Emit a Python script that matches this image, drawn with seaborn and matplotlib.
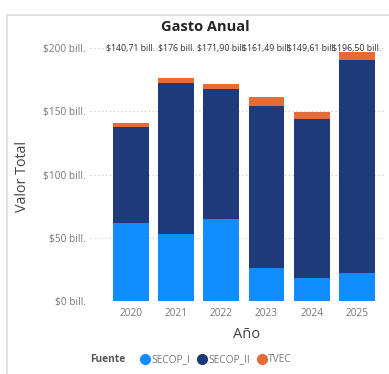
import matplotlib
matplotlib.use("Agg")
import matplotlib.pyplot as plt
from matplotlib.lines import Line2D
from matplotlib.patches import Rectangle
import seaborn as sns
import pandas as pd
import numpy as np

years = ["2020", "2021", "2022", "2023", "2024", "2025"]
secop_i = [61.7, 53.0, 65.0, 26.0, 18.0, 22.0]
secop_ii = [76.0, 119.0, 102.9, 128.5, 125.8, 168.5]
tvec = [3.0, 4.0, 4.0, 7.0, 5.8, 6.0]
total_labels = ["$140,71 bill.", "$176 bill.", "$171,90 bill.", "$161,49 bill.", "$149,61 bill.", "$196,50 bill."]
yticks = [0, 50, 100, 150, 200]
ytick_labels = ["$0 bill.", "$50 bill.", "$100 bill.", "$150 bill.", "$200 bill."]

colors = {"SECOP_I": "#118DFF", "SECOP_II": "#1E3A7B", "TVEC": "#E66C37"}

sns.set_style("white")
plt.rcParams["font.family"] = ["Open Sans", "DejaVu Sans"]

W, H = 389, 374
fig = plt.figure(figsize=(W / 100, H / 100), dpi=100)
ax = fig.add_axes([90 / W, (H - 301) / H, 295 / W, 253 / H])

df = pd.DataFrame({"Año": years, "SECOP_I": secop_i, "SECOP_II": secop_ii, "TVEC": tvec})
df["c1"] = df["SECOP_I"]
df["c2"] = df["c1"] + df["SECOP_II"]
df["c3"] = df["c2"] + df["TVEC"]

for col, key in [("c3", "TVEC"), ("c2", "SECOP_II"), ("c1", "SECOP_I")]:
    sns.barplot(data=df, x="Año", y=col, color=colors[key], width=0.79,
                saturation=1, ax=ax, linewidth=0)

ax.set_xlim(-0.9, 5.62)
ax.set_ylim(0, 200)
ax.set_yticks(yticks)
ax.set_yticklabels(ytick_labels)
for y in yticks:
    ax.axhline(y, color="#C8C8C8", linestyle=(0, (1, 2.5)), linewidth=0.8, zorder=0)
for s in ax.spines.values():
    s.set_visible(False)
ax.tick_params(axis="both", length=0, labelsize=7.3, labelcolor="#777777")
ax.tick_params(axis="x", pad=5)
ax.tick_params(axis="y", pad=3)
ax.set_xlabel("Año", fontsize=10.5, color="#444444")
ax.set_ylabel("Valor Total", fontsize=10.3, color="#444444")
ax.xaxis.set_label_coords((247 - 90) / 295, -(327 - 301) / 253)
ax.yaxis.set_label_coords(-(90 - 30) / 295, 0.5 + (253 / 2 - (176 - 48)) / 253)

for i, lab in enumerate(total_labels):
    ax.text(i, 200, lab, ha="center", va="center", fontsize=6.3, color="#333333",
            clip_on=False, zorder=5)

fig.text(205 / W, 1 - 27 / H, "Gasto Anual", ha="center", va="center",
         fontsize=10.5, fontweight="bold", color="#252423")

# legend
fig.text(90 / W, 1 - 360 / H, "Fuente", ha="left", va="center", fontsize=7.3,
         fontweight="bold", color="#555555")
handles = [Line2D([], [], marker="o", linestyle="", markersize=7,
                  markerfacecolor=colors[k], markeredgecolor=colors[k]) for k in colors]
leg = fig.legend(handles, list(colors.keys()), loc="center left",
                 bbox_to_anchor=(139 / W, 1 - 360 / H), ncol=3, frameon=False,
                 fontsize=7.3, handletextpad=0.0, columnspacing=0.6,
                 borderaxespad=0, borderpad=0, handlelength=1.2)
for t in leg.get_texts():
    t.set_color("#777777")

# panel border
fig.add_artist(Rectangle((7 / W, -0.1), 1.2, 1 - 15 / H + 0.1, transform=fig.transFigure,
                         fill=False, edgecolor="#DDDDDD", linewidth=1.2))

fig.savefig("out.png", dpi=100)
